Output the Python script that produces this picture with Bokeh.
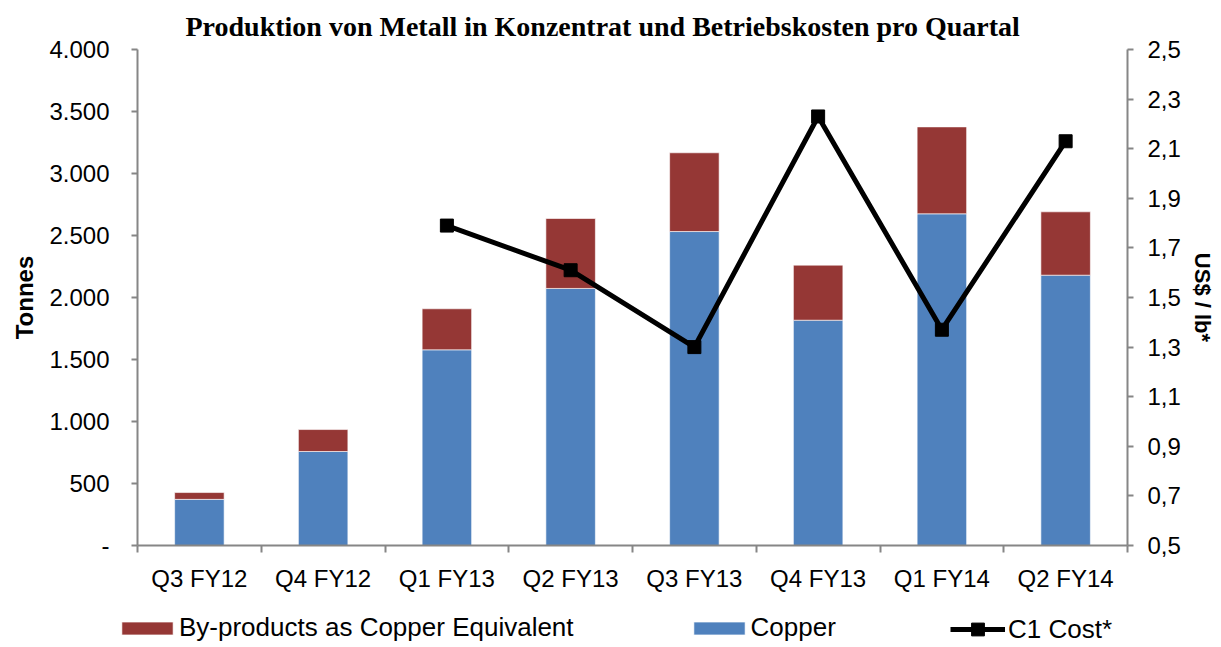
from bokeh.plotting import figure
from bokeh.models import (Range1d, LinearAxis, FixedTicker, CustomJSTickFormatter,
                          Legend, LegendItem, ColumnDataSource)
from bokeh.embed import file_html
from bokeh.resources import INLINE

categories = ["Q3 FY12", "Q4 FY12", "Q1 FY13", "Q2 FY13", "Q3 FY13", "Q4 FY13", "Q1 FY14", "Q2 FY14"]
copper = [372, 758, 1578, 2073, 2532, 1817, 2675, 2180]
byproducts = [55, 177, 331, 564, 635, 444, 701, 511]
c1_cost = [float("nan"), float("nan"), 1.79, 1.61, 1.30, 2.23, 1.37, 2.13]
left_ticks = [0, 500, 1000, 1500, 2000, 2500, 3000, 3500, 4000]
right_ticks = [0.5, 0.7, 0.9, 1.1, 1.3, 1.5, 1.7, 1.9, 2.1, 2.3, 2.5]
legend_labels = ["By-products as Copper Equivalent", "Copper", "C1 Cost*"]

BLUE = "#4F81BD"
RED = "#953735"
AXIS = "#868686"
FONT = "Liberation Sans"

centers = [i + 0.5 for i in range(len(categories))]
source = ColumnDataSource(dict(x=centers, copper=copper, byp=byproducts, c1=c1_cost))

p = figure(frame_width=990, frame_height=496, x_range=Range1d(0, len(categories)),
           y_range=Range1d(0, 4000), output_backend="svg", toolbar_location=None,
           min_border_left=137, min_border_right=86, min_border_top=0, min_border_bottom=67)
p.extra_y_ranges = {"cost": Range1d(0.5, 2.5)}

p.title.text = "Produktion von Metall in Konzentrat und Betriebskosten pro Quartal"
p.title.text_font = "Liberation Serif"
p.title.text_font_size = "28px"
p.title.text_font_style = "bold"
p.title.text_color = "black"
p.title.align = "left"
p.title.offset = 48
p.title.standoff = 16

p.outline_line_color = None
p.xgrid.grid_line_color = None
p.ygrid.grid_line_color = None
p.background_fill_color = "white"

bars = p.vbar_stack(["copper", "byp"], x="x", width=0.4, color=[BLUE, RED],
                    line_color="white", line_alpha=0.6, line_width=1, source=source)
line = p.line("x", "c1", source=source, y_range_name="cost", line_color="black", line_width=5)
pts = p.scatter("x", "c1", source=source, y_range_name="cost", marker="square",
                size=13, color="black")

# x axis
xa = p.xaxis[0]
xa.ticker = FixedTicker(ticks=centers, minor_ticks=list(range(len(categories) + 1)))
xa.formatter = CustomJSTickFormatter(args=dict(names=categories),
                                     code="return names[Math.floor(tick)];")
xa.major_tick_out = 0
xa.major_tick_in = 0
xa.minor_tick_out = 7
xa.minor_tick_in = 0
xa.minor_tick_line_color = AXIS
xa.minor_tick_line_width = 2
xa.axis_line_color = AXIS
xa.axis_line_width = 2
xa.major_label_text_font = FONT
xa.major_label_text_font_size = "24px"
xa.major_label_text_color = "black"
xa.major_label_standoff = 12

# left axis
ya = p.yaxis[0]
ya.ticker = FixedTicker(ticks=left_ticks, minor_ticks=[])
ya.formatter = CustomJSTickFormatter(code="""
if (tick == 0) return '-';
return Math.round(tick).toString().replace(/\\B(?=(\\d{3})+(?!\\d))/g, '.');
""")
ya.major_tick_out = 6
ya.major_tick_in = 0
ya.minor_tick_out = 0
ya.minor_tick_in = 0
ya.major_tick_line_color = AXIS
ya.major_tick_line_width = 2
ya.axis_line_color = AXIS
ya.axis_line_width = 2
ya.major_label_text_font = FONT
ya.major_label_text_font_size = "24px"
ya.major_label_text_color = "black"
ya.major_label_standoff = 22
ya.axis_label = "Tonnes"
ya.axis_label_text_font = FONT
ya.axis_label_text_font_size = "24px"
ya.axis_label_text_font_style = "bold"
ya.axis_label_text_color = "black"
ya.axis_label_standoff = 8

# right axis
ra = LinearAxis(y_range_name="cost")
ra.ticker = FixedTicker(ticks=right_ticks, minor_ticks=[])
ra.formatter = CustomJSTickFormatter(code="return tick.toFixed(1).replace('.', ',');")
ra.major_tick_out = 6
ra.major_tick_in = 0
ra.minor_tick_out = 0
ra.minor_tick_in = 0
ra.major_tick_line_color = AXIS
ra.major_tick_line_width = 2
ra.axis_line_color = AXIS
ra.axis_line_width = 2
ra.major_label_text_font = FONT
ra.major_label_text_font_size = "24px"
ra.major_label_text_color = "black"
ra.major_label_standoff = 14
ra.axis_label = "US$ / lb*"
ra.axis_label_text_font = FONT
ra.axis_label_text_font_size = "22px"
ra.axis_label_text_font_style = "bold"
ra.axis_label_text_color = "black"
ra.axis_label_standoff = 6
p.add_layout(ra, "right")

# legend strip: separate root figure below the chart (its data lies outside its view)
lp = figure(width=1213, height=34, x_range=Range1d(-101, -100), y_range=Range1d(-101, -100),
            output_backend="svg", toolbar_location=None,
            min_border_left=0, min_border_right=0, min_border_top=0, min_border_bottom=0)
lp.axis.visible = False
lp.grid.visible = False
lp.outline_line_color = None
lg_byp = lp.vbar(x="x", top="byp", width=0.4, color=RED, line_color="white",
                 line_alpha=0.6, source=source)
lg_cu = lp.vbar(x="x", top="copper", width=0.4, color=BLUE, line_color="white",
                line_alpha=0.6, source=source)
lg_line = lp.line(x="x", y="c1", line_color="black", line_width=5, source=source)
lg_pts = lp.scatter(x="x", y="c1", marker="square", size=13, color="black", source=source)


def style_legend(lg):
    lg.label_text_font = FONT
    lg.label_text_font_size = "26px"
    lg.label_text_color = "black"
    lg.label_height = 28
    lg.margin = 0
    lg.border_line_alpha = 0
    lg.background_fill_alpha = 0


legend_a = Legend(items=[
    LegendItem(label=legend_labels[0], renderers=[lg_byp]),
    LegendItem(label=legend_labels[1], renderers=[lg_cu]),
], orientation="horizontal", location=(113, 1))
style_legend(legend_a)
legend_a.label_standoff = 0
legend_a.glyph_width = 64
legend_a.glyph_height = 16
legend_a.spacing = 113
legend_a.padding = 2
lp.add_layout(legend_a, "center")

legend_b = Legend(items=[
    LegendItem(label=legend_labels[2], renderers=[lg_line, lg_pts]),
], orientation="horizontal", location=(950, 1))
style_legend(legend_b)
legend_b.label_standoff = 3
legend_b.glyph_width = 55
legend_b.glyph_height = 32
legend_b.padding = 0
lp.add_layout(legend_b, "center")

open("out.html", "w").write(file_html([p, lp], INLINE))
